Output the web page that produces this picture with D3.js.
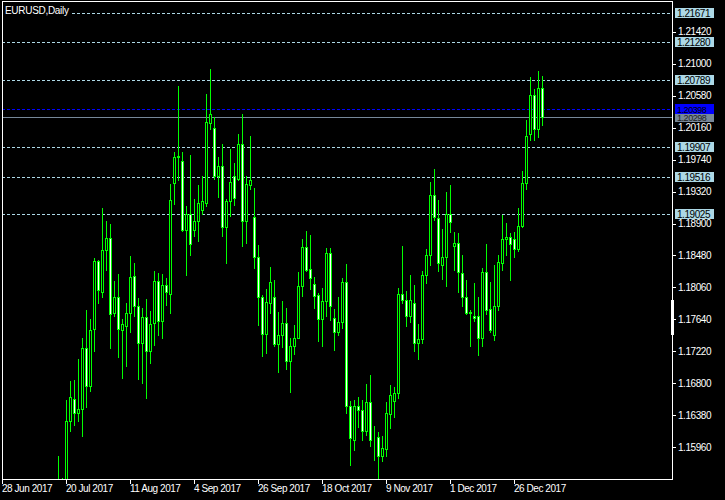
<!DOCTYPE html>
<html><head><meta charset="utf-8">
<script src="https://cdn.jsdelivr.net/npm/d3@7"></script>
<style>html,body{margin:0;padding:0;background:#000;} svg{display:block;}</style>
</head><body><svg id="c" width="725" height="500"></svg>
<script>
const symbolTitle = "EURUSD,Daily";
const dateTickLabels = ["28 Jun 2017","20 Jul 2017","11 Aug 2017","4 Sep 2017","26 Sep 2017","18 Oct 2017","9 Nov 2017","1 Dec 2017","26 Dec 2017"];
const dateTickBars = [0,16,32,48,64,80,96,112,128];
const priceTicks = [1.21420,1.21000,1.20580,1.20160,1.19740,1.19320,1.18900,1.18480,1.18060,1.17640,1.17220,1.16800,1.16380,1.15960];
const levelLines = [1.21671,1.21280,1.20789,1.19907,1.19516,1.19025];
const askPrice = 1.20398;
const bidPrice = 1.20298;
const firstBar = 14;
const opens = [1.1478,1.1548,1.1510,1.1630,1.1659,1.1641,1.1646,1.1726,1.1676,1.1752,1.1841,1.1800,1.1855,1.1871,1.1773,1.1794,1.1750,1.1756,1.1772,1.1821,1.1781,1.1733,1.1767,1.1722,1.1759,1.1814,1.1762,1.1809,1.1798,1.1943,1.1978,1.1972,1.1882,1.1903,1.1881,1.1893,1.1908,1.1917,1.2022,1.2016,1.1952,1.1966,1.1885,1.1919,1.1952,1.1949,1.1994,1.1893,1.1940,1.1899,1.1846,1.1793,1.1745,1.1785,1.1794,1.1732,1.1743,1.1759,1.1710,1.1729,1.1740,1.1808,1.1859,1.1830,1.1811,1.1796,1.1765,1.1788,1.1851,1.1766,1.1748,1.1760,1.1813,1.1650,1.1605,1.1650,1.1645,1.1618,1.1656,1.1609,1.1609,1.1585,1.1594,1.1640,1.1657,1.1667,1.1797,1.1790,1.1769,1.1786,1.1733,1.1738,1.1822,1.1848,1.1927,1.1897,1.1836,1.1846,1.1903,1.1861,1.1865,1.1825,1.1794,1.1773,1.1769,1.1769,1.1740,1.1826,1.1778,1.1743,1.1781,1.1838,1.1870,1.1872,1.1870,1.1857,1.1887,1.1943,1.2008,1.2059,1.2014,1.2068];
const highs = [1.1584,1.1556,1.1658,1.1683,1.1684,1.1712,1.1740,1.1776,1.1765,1.1845,1.1842,1.1910,1.1893,1.1889,1.1814,1.1824,1.1765,1.1786,1.1847,1.1838,1.1792,1.1779,1.1791,1.1775,1.1828,1.1825,1.1824,1.1818,1.1942,1.1984,1.2071,1.1984,1.1913,1.1980,1.1922,1.1941,1.1952,1.2060,1.2093,1.2030,1.1978,1.1995,1.1922,1.1988,1.1970,1.2008,1.2034,1.1953,1.2005,1.1937,1.1862,1.1796,1.1804,1.1833,1.1816,1.1774,1.1788,1.1779,1.1740,1.1757,1.1826,1.1870,1.1880,1.1875,1.1820,1.1799,1.1805,1.1858,1.1858,1.1778,1.1793,1.1818,1.1837,1.1657,1.1658,1.1662,1.1658,1.1679,1.1691,1.1624,1.1616,1.1611,1.1656,1.1678,1.1675,1.1805,1.1861,1.1801,1.1822,1.1809,1.1758,1.1828,1.1857,1.1945,1.1962,1.1921,1.1883,1.1931,1.1941,1.1879,1.1877,1.1849,1.1816,1.1776,1.1812,1.1794,1.1832,1.1863,1.1813,1.1835,1.1849,1.1901,1.1891,1.1877,1.1879,1.1911,1.1959,1.2026,1.2083,1.2067,1.2090,1.2084];
const lows = [1.1474,1.1500,1.1479,1.1618,1.1625,1.1630,1.1611,1.1649,1.1670,1.1723,1.1785,1.1793,1.1829,1.1727,1.1768,1.1715,1.1687,1.1703,1.1748,1.1769,1.1686,1.1681,1.1661,1.1707,1.1731,1.1744,1.1740,1.1783,1.1773,1.1916,1.1947,1.1880,1.1822,1.1849,1.1873,1.1867,1.1903,1.1913,1.2014,1.1948,1.1925,1.1873,1.1838,1.1900,1.1914,1.1947,1.1861,1.1865,1.1936,1.1832,1.1757,1.1716,1.1720,1.1772,1.1729,1.1695,1.1728,1.1699,1.1669,1.1719,1.1739,1.1795,1.1827,1.1804,1.1779,1.1736,1.1729,1.1768,1.1763,1.1724,1.1743,1.1753,1.1641,1.1573,1.1592,1.1623,1.1606,1.1612,1.1598,1.1579,1.1554,1.1578,1.1585,1.1622,1.1636,1.1661,1.1785,1.1756,1.1761,1.1722,1.1712,1.1733,1.1812,1.1835,1.1895,1.1827,1.1817,1.1808,1.1879,1.1829,1.1800,1.1781,1.1771,1.1729,1.1762,1.1717,1.1729,1.1771,1.1748,1.1737,1.1776,1.1829,1.1849,1.1816,1.1846,1.1854,1.1886,1.1935,1.2000,1.2000,1.2004,1.2019];
const closes = [1.1552,1.1515,1.1631,1.1662,1.1641,1.1646,1.1726,1.1676,1.1750,1.1841,1.1802,1.1855,1.1871,1.1771,1.1794,1.1752,1.1758,1.1772,1.1820,1.1781,1.1733,1.1767,1.1723,1.1758,1.1815,1.1762,1.1809,1.1800,1.1921,1.1978,1.1979,1.1882,1.1903,1.1863,1.1893,1.1917,1.1919,1.2023,1.2034,1.1952,1.1966,1.1885,1.1919,1.1945,1.1923,1.1994,1.1893,1.1942,1.1947,1.1846,1.1793,1.1745,1.1787,1.1813,1.1732,1.1743,1.1759,1.1710,1.1729,1.1740,1.1808,1.1859,1.1829,1.1819,1.1795,1.1765,1.1788,1.1851,1.1781,1.1748,1.1760,1.1813,1.1650,1.1608,1.1650,1.1645,1.1618,1.1656,1.1606,1.1610,1.1585,1.1595,1.1641,1.1665,1.1667,1.1797,1.1790,1.1769,1.1790,1.1733,1.1738,1.1822,1.1848,1.1928,1.1898,1.1838,1.1846,1.1903,1.1892,1.1865,1.1826,1.1794,1.1772,1.1774,1.1766,1.1740,1.1826,1.1777,1.1750,1.1782,1.1839,1.1870,1.1872,1.1863,1.1857,1.1887,1.1943,1.2005,1.2059,1.2014,1.2068,1.2030];

const W = 725, H = 500;
const plot = {left: 2, right: 672, top: 1, bottom: 479};
const FONT = "'Liberation Sans', Arial, sans-serif";
const GREEN = "#00ff00", LB = "#add8e6";

const bars = opens.map((o, k) => ({i: firstBar + k, o, h: highs[k], l: lows[k], c: closes[k]}));

const svg = d3.select("#c");
svg.append("rect").attr("width", W).attr("height", H).attr("fill", "#000");

const x = d3.scaleLinear().domain([dateTickBars[0], dateTickBars[dateTickBars.length-1]]).range([2, 514]);
const y = d3.scaleLinear().domain([priceTicks[priceTicks.length-1], priceTicks[0]]).range([447.3, 31.7]);

svg.append("clipPath").attr("id", "clip").append("rect")
  .attr("x", plot.left + 1).attr("y", plot.top + 1)
  .attr("width", plot.right - plot.left - 1).attr("height", plot.bottom - plot.top - 1);

const g = svg.append("g").attr("clip-path", "url(#clip)").attr("shape-rendering", "crispEdges");

// level lines
g.selectAll("line.lvl").data(levelLines).join("line")
  .attr("x1", plot.left).attr("x2", plot.right)
  .attr("y1", d => Math.round(y(d)) + 0.5).attr("y2", d => Math.round(y(d)) + 0.5)
  .attr("stroke", LB).attr("stroke-dasharray", "3,2");
g.append("line").attr("x1", plot.left).attr("x2", plot.right)
  .attr("y1", Math.round(y(askPrice)) + 0.5).attr("y2", Math.round(y(askPrice)) + 0.5)
  .attr("stroke", "#0000ff").attr("stroke-dasharray", "3,2");
g.append("line").attr("x1", plot.left).attr("x2", plot.right)
  .attr("y1", Math.round(y(bidPrice)) + 0.5).attr("y2", Math.round(y(bidPrice)) + 0.5)
  .attr("stroke", "#778899");

// candles
const cg = g.selectAll("g.bar").data(bars).join("g");
cg.append("line")
  .attr("x1", d => x(d.i) + 0.5).attr("x2", d => x(d.i) + 0.5)
  .attr("y1", d => Math.round(y(d.h))).attr("y2", d => Math.round(y(d.l)) + 1)
  .attr("stroke", GREEN);
cg.append("rect")
  .attr("x", d => x(d.i) - 0.5)
  .attr("y", d => Math.round(y(Math.max(d.o, d.c))) + 0.5)
  .attr("width", 2)
  .attr("height", d => Math.max(0, Math.round(y(Math.min(d.o, d.c))) - Math.round(y(Math.max(d.o, d.c)))))
  .attr("fill", d => d.c >= d.o ? "#000" : "#fff")
  .attr("stroke", GREEN);

// frame
const fr = svg.append("g").attr("shape-rendering", "crispEdges");
fr.append("rect").attr("x", plot.left + 0.5).attr("y", plot.top + 0.5)
  .attr("width", plot.right - plot.left).attr("height", plot.bottom - plot.top)
  .attr("fill", "none").attr("stroke", "#fff");
// scroll marker on the right edge
fr.append("rect").attr("x", plot.right - 1).attr("y", 300).attr("width", 3).attr("height", 35).attr("fill", "#fff");

// title
svg.append("rect").attr("x", 3).attr("y", 4).attr("width", 68).attr("height", 12).attr("fill", "#000");
svg.append("text").attr("x", 5).attr("y", 13.5).text(symbolTitle)
  .attr("fill", "#fff").attr("font-family", FONT).attr("font-size", "10px").attr("letter-spacing", "-0.3px");

// y axis ticks
const ya = svg.append("g");
ya.selectAll("line").data(priceTicks).join("line")
  .attr("x1", plot.right).attr("x2", plot.right + 4)
  .attr("y1", d => Math.round(y(d)) + 0.5).attr("y2", d => Math.round(y(d)) + 0.5)
  .attr("stroke", "#fff").attr("shape-rendering", "crispEdges");
ya.selectAll("text").data(priceTicks).join("text")
  .attr("x", 678).attr("y", d => y(d) + 3.6)
  .text(d => d.toFixed(5))
  .attr("fill", "#fff").attr("font-family", FONT).attr("font-size", "10px").attr("letter-spacing", "-0.45px");

// price labels
function priceLabel(p, bg, fg, size) {
  const yy = Math.round(y(p));
  svg.append("rect").attr("x", 675).attr("y", yy - 5).attr("width", 39).attr("height", 10).attr("fill", bg);
  svg.append("text").attr("x", 677).attr("y", yy + 3.6).text(p.toFixed(5))
    .attr("fill", fg).attr("font-family", FONT).attr("font-size", size || "10px").attr("letter-spacing", "-0.45px");
}
levelLines.forEach(p => priceLabel(p, LB, "#000"));
priceLabel(bidPrice, "#778899", "#222", "9px");
priceLabel(askPrice, "#0000ff", "#000", "9px");

// x axis
const xa = svg.append("g");
xa.selectAll("line").data(dateTickBars).join("line")
  .attr("x1", d => x(d) + 0.5).attr("x2", d => x(d) + 0.5)
  .attr("y1", plot.bottom).attr("y2", plot.bottom + 5)
  .attr("stroke", "#fff").attr("shape-rendering", "crispEdges");
xa.selectAll("text").data(dateTickLabels).join("text")
  .attr("x", (d, k) => x(dateTickBars[k])).attr("y", 492)
  .text(d => d)
  .attr("fill", "#fff").attr("font-family", FONT).attr("font-size", "10px").attr("letter-spacing", "-0.45px");
</script>
</body></html>
